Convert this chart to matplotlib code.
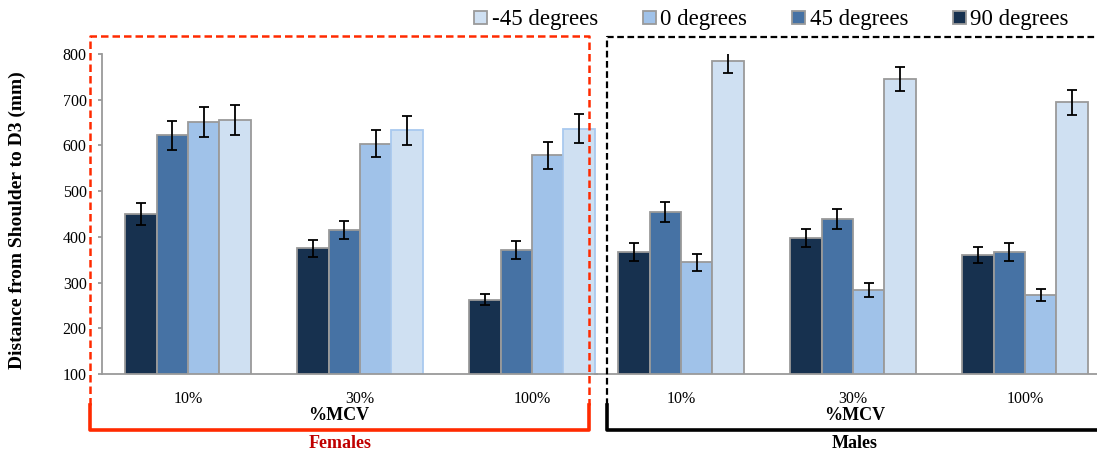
import numpy as np
import matplotlib
matplotlib.use("Agg")
import matplotlib.pyplot as plt

plt.rcParams['font.family'] = ['Liberation Serif', 'DejaVu Serif']

# data
categories = ['10%', '30%', '100%']
series_names = ['90 degrees', '45 degrees', '0 degrees', '-45 degrees']
colors = ['#17314f', '#4672a4', '#a0c2e9', '#cfe0f2']

female_90 = [451, 375, 262]
female_45 = [622, 415, 372]
female_0 = [651, 604, 578]
female_m45 = [655, 633, 637]
female_90_err = [24, 18, 12]
female_45_err = [31, 20, 20]
female_0_err = [32, 29, 29]
female_m45_err = [33, 32, 31]

male_90 = [367, 397, 360]
male_45 = [455, 440, 367]
male_0 = [344, 284, 273]
male_m45 = [785, 745, 694]
male_90_err = [19, 20, 18]
male_45_err = [22, 22, 19]
male_0_err = [18, 15, 13]
male_m45_err = [27, 27, 27]

W, H = 1097, 454
fig = plt.figure(figsize=(W / 100, H / 100), dpi=100)

grp = 172.0  # pixels per group
y0, y1 = 54, 374  # pixel rows of 800 and 100
bottom = (H - y1) / H
height = (y1 - y0) / H

ax_f = fig.add_axes([102 / W, bottom, 495 / W, height])
ax_m = fig.add_axes([595 / W, bottom, 3 * grp / W, height])
ax_m.set_facecolor('none')

bw = 0.183
offsets = (np.arange(4) - 1.5) * bw
gray = '#9a9a9a'


def draw(ax, vals, errs, edge_last):
    x = np.arange(len(categories))
    handles = []
    for i, (v, e) in enumerate(zip(vals, errs)):
        ec = edge_last if i == 3 else gray
        b = ax.bar(x + offsets[i], v, bw, color=colors[i], edgecolor=ec,
                   linewidth=1.3, label=series_names[i], zorder=2)
        ax.errorbar(x + offsets[i], v, yerr=e, fmt='none', ecolor='black',
                    elinewidth=1.3, capsize=3.5, capthick=1.3, zorder=3)
        handles.append(b)
    ax.set_xticks(x)
    ax.set_xticklabels(categories, fontsize=11.5)
    ax.tick_params(axis='x', length=0, pad=12)
    ax.set_ylim(100, 800)
    for s in ['top', 'right']:
        ax.spines[s].set_visible(False)
    ax.spines['bottom'].set_color(gray)
    ax.spines['bottom'].set_linewidth(1.3)
    return handles


handles = draw(ax_f, [female_90, female_45, female_0, female_m45],
               [female_90_err, female_45_err, female_0_err, female_m45_err],
               [gray, '#a9c9ef', '#a9c9ef'])
draw(ax_m, [male_90, male_45, male_0, male_m45],
     [male_90_err, male_45_err, male_0_err, male_m45_err], gray)

ax_f.set_xlim(-0.5, -0.5 + 495 / grp)
ax_m.set_xlim(-0.5, 2.5)

ax_f.set_yticks(range(100, 801, 100))
ax_f.tick_params(axis='y', labelsize=11.5, length=3, pad=8, color=gray, width=1.3)
ax_f.spines['left'].set_color(gray)
ax_f.spines['left'].set_linewidth(1.3)

ax_m.spines['left'].set_visible(False)
ax_m.set_yticks([])

fig.text(17 / W, 1 - 220 / H, 'Distance from Shoulder to D3 (mm)', rotation=90,
         ha='center', va='center', fontsize=14, fontweight='bold')
fig.text(339 / W, 1 - 415 / H, '%MCV', ha='center', va='center', fontsize=13, fontweight='bold')
fig.text(855 / W, 1 - 415 / H, '%MCV', ha='center', va='center', fontsize=13, fontweight='bold')
fig.text(340 / W, 1 - 444 / H, 'Females', ha='center', va='center', fontsize=13,
         fontweight='bold', color='#c00000')
fig.text(855 / W, 1 - 444 / H, 'Males', ha='center', va='center', fontsize=13, fontweight='bold')

fig.legend(handles[::-1], series_names[::-1], loc='center left',
           bbox_to_anchor=(474 / W, 1 - 20 / H), ncol=4, frameon=False,
           fontsize=16.5, handlelength=0.57, handleheight=0.5, handletextpad=0.2,
           columnspacing=1.95, borderpad=0, borderaxespad=0)

# group brackets overlay
ov = fig.add_axes([0, 0, 1, 1], facecolor='none')
ov.set_xlim(0, W)
ov.set_ylim(H, 0)
ov.axis('off')
red = '#ff2a00'
ov.plot([90, 90, 589, 589], [405, 36, 36, 405], color=red, lw=1.8,
        linestyle=(0, (3, 1.6)))
ov.plot([90, 90, 589, 589], [405, 430, 430, 405], color=red, lw=2.6,
        solid_joinstyle='round')
ov.plot([607, 607, W], [405, 37, 37], color='black', lw=1.6,
        linestyle=(0, (3, 1.6)))
ov.plot([607, 607, W], [405, 430, 430], color='black', lw=2.6,
        solid_joinstyle='round')

fig.savefig('out.png', dpi=100)
